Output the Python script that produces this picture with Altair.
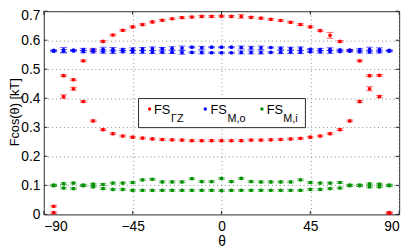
import altair as alt
import pandas as pd

angles = list(range(-85, 90, 5))

red_hi = [0.028, 0.478, 0.464, 0.529, 0.565, 0.596, 0.618, 0.634, 0.646, 0.654,
          0.663, 0.669, 0.674, 0.678, 0.680, 0.682, 0.682, 0.683, 0.682, 0.682,
          0.679, 0.676, 0.672, 0.668, 0.662, 0.654, 0.646, 0.633, 0.617, 0.596,
          0.565, 0.529, 0.478, 0.479, 0.006]
red_hi_err = [0.003] * 19 + [0.006] + [0.003] * 8 + [0.010] + [0.003] * 6
red_lo = [0.006, 0.406, 0.433, 0.389, 0.322, 0.292, 0.278, 0.270, 0.266, 0.263,
          0.260, 0.258, 0.257, 0.256, 0.254, 0.254, 0.254, 0.254, 0.254, 0.254,
          0.256, 0.256, 0.257, 0.258, 0.260, 0.262, 0.266, 0.270, 0.278, 0.292,
          0.322, 0.389, 0.433, 0.406, 0.004]
red_lo_err = [0.003, 0.006, 0.005] + [0.003] * 28 + [0.004, 0.007, 0.004, 0.003]

blue_hi = [0.565, 0.567, 0.566, 0.568, 0.567, 0.569, 0.569, 0.568, 0.569, 0.570,
           0.571, 0.571, 0.572, 0.573, 0.576, 0.574, 0.576, 0.576, 0.576, 0.575,
           0.574, 0.574, 0.575, 0.572, 0.571, 0.571, 0.569, 0.568, 0.569, 0.567,
           0.566, 0.567, 0.569, 0.568, 0.565]
blue_hi_err = [0.002, 0.008, 0.002, 0.004, 0.005, 0.007, 0.006, 0.004, 0.005, 0.005,
               0.006, 0.004, 0.006, 0.007, 0.002, 0.005, 0.002, 0.002, 0.002, 0.005,
               0.005, 0.006, 0.002, 0.005, 0.005, 0.006, 0.002, 0.004, 0.005, 0.002,
               0.002, 0.005, 0.007, 0.006, 0.002]
blue_lo = [0.562, 0.562, 0.563, 0.561, 0.561, 0.561, 0.560, 0.561, 0.560, 0.560,
           0.559, 0.559, 0.559, 0.558, 0.558, 0.558, 0.557, 0.557, 0.557, 0.558,
           0.558, 0.558, 0.558, 0.559, 0.559, 0.559, 0.560, 0.560, 0.560, 0.561,
           0.562, 0.561, 0.560, 0.561, 0.562]
blue_lo_err = [0.002, 0.006, 0.002, 0.004, 0.005, 0.006, 0.006, 0.004, 0.005, 0.005,
               0.005, 0.004, 0.005, 0.006, 0.002, 0.005, 0.002, 0.002, 0.002, 0.005,
               0.005, 0.005, 0.002, 0.005, 0.005, 0.005, 0.002, 0.004, 0.005, 0.002,
               0.002, 0.005, 0.005, 0.005, 0.002]

green_hi = [0.101, 0.106, 0.108, 0.101, 0.104, 0.103, 0.108, 0.108, 0.110, 0.119,
            0.121, 0.112, 0.112, 0.112, 0.123, 0.113, 0.113, 0.124, 0.113, 0.124,
            0.113, 0.112, 0.112, 0.112, 0.112, 0.119, 0.110, 0.108, 0.108, 0.110,
            0.101, 0.101, 0.105, 0.104, 0.101]
green_hi_err = [0.003] * 35
green_lo = [0.099, 0.091, 0.089, 0.099, 0.095, 0.089, 0.086, 0.086, 0.083, 0.083,
            0.083, 0.083, 0.083, 0.083, 0.083, 0.083, 0.083, 0.082, 0.083, 0.083,
            0.083, 0.083, 0.083, 0.083, 0.083, 0.083, 0.086, 0.086, 0.089, 0.091,
            0.099, 0.099, 0.095, 0.095, 0.099]
green_lo_err = [0.003] * 35

x_ticks = [-90, -45, 0, 45, 90]
y_ticks = [0, 0.1, 0.2, 0.3, 0.4, 0.5, 0.6, 0.7]

RED, BLUE, GREEN = "#ff0000", "#0000ff", "#009000"
FONT = "Liberation Sans"
W, H = 362, 207
TL = 3.6


def frame(vals, errs):
    return pd.DataFrame({
        "angle": angles,
        "value": vals,
        "lo": [v - e for v, e in zip(vals, errs)],
        "hi": [v + e for v, e in zip(vals, errs)],
    })


xs = alt.Scale(domain=[-90, 90], nice=False, zero=False)
ys = alt.Scale(domain=[0, 0.7], nice=False, zero=False)

XAX = alt.Axis(values=x_ticks, title="θ", titleY=32, titleBaseline="alphabetic",
               titleFontSize=14, labelPadding=5)
YAX = alt.Axis(values=y_ticks, title="Fcos(θ) [kT]", titleX=-26, titleY=H / 2 - 1,
               titleAngle=-90, titleAlign="center", titleBaseline="alphabetic",
               titleFontSize=13, labelPadding=4,
               labelOffset={"condition": {"test": "datum.value > 0.65", "value": 4}, "value": 0},
               labelExpr="datum.value == 0 ? '0' : format(datum.value, '.1f')")


def xenc(field):
    return alt.X(field, scale=xs, axis=XAX)


def yenc(field):
    return alt.Y(field, scale=ys, axis=YAX)


def series(df, color):
    base = alt.Chart(df)
    rule = base.mark_rule(color=color, strokeWidth=1, opacity=0.55).encode(
        x=xenc("angle:Q"), y=yenc("lo:Q"), y2="hi:Q")
    cap_lo = base.mark_tick(color=color, orient="horizontal", size=7, thickness=1,
                            opacity=0.6).encode(x=xenc("angle:Q"), y=yenc("lo:Q"))
    cap_hi = base.mark_tick(color=color, orient="horizontal", size=7, thickness=1,
                            opacity=0.6).encode(x=xenc("angle:Q"), y=yenc("hi:Q"))
    dot = base.mark_circle(color=color, size=14, opacity=1).encode(
        x=xenc("angle:Q"), y=yenc("value:Q"))
    return [rule, cap_lo, cap_hi, dot]


layers = []
for vals, errs, col in [
    (red_hi, red_hi_err, RED), (red_lo, red_lo_err, RED),
    (blue_hi, blue_hi_err, BLUE), (blue_lo, blue_lo_err, BLUE),
    (green_hi, green_hi_err, GREEN), (green_lo, green_lo_err, GREEN),
]:
    layers += series(frame(vals, errs), col)

# inward ticks
xt = alt.Chart(pd.DataFrame({"t": x_ticks}))
yt = alt.Chart(pd.DataFrame({"t": y_ticks}))
tick_col = "#262626"
layers.append(xt.mark_rule(color=tick_col).encode(
    x=xenc("t:Q"), y=alt.value(H), y2=alt.value(H - TL)))
layers.append(xt.mark_rule(color=tick_col).encode(
    x=xenc("t:Q"), y=alt.value(0), y2=alt.value(TL)))
layers.append(yt.mark_rule(color=tick_col).encode(
    y=yenc("t:Q"), x=alt.value(0), x2=alt.value(TL)))
layers.append(yt.mark_rule(color=tick_col).encode(
    y=yenc("t:Q"), x=alt.value(W), x2=alt.value(W - TL)))

# legend
one = alt.Chart(pd.DataFrame({"a": [0]}))
layers.append(one.mark_rect(fill="white", stroke="#262626", strokeWidth=1).encode(
    x=alt.value(96.5), x2=alt.value(266.5), y=alt.value(89), y2=alt.value(118.6)))
leg_items = [
    (RED, 107.8, 112.2, 129.6, "ΓZ"),
    (BLUE, 164.5, 169.8, 187.2, "M,o"),
    (GREEN, 222.2, 227.2, 244.0, "M,i"),
]
for col, dx, tx, sx, sub in leg_items:
    layers.append(one.mark_circle(color=col, size=12, opacity=1).encode(
        x=alt.value(dx), y=alt.value(99.6)))
    layers.append(one.mark_text(font=FONT, fontSize=13, align="left", baseline="alphabetic",
                                color="black").encode(
        x=alt.value(tx), y=alt.value(104.5), text=alt.value("FS")))
    layers.append(one.mark_text(font=FONT, fontSize=11, align="left", baseline="alphabetic",
                                color="black").encode(
        x=alt.value(sx), y=alt.value(112.7), text=alt.value(sub)))

chart = alt.layer(*layers).properties(
    width=W, height=H,
    autosize=alt.AutoSizeParams(type="none"),
    padding={"left": 36.5, "top": 1, "right": 8, "bottom": 34},
).configure_view(
    stroke="#262626", strokeWidth=1
).configure_axis(
    labelFont=FONT, titleFont=FONT, labelFontSize=14, labelColor="black",
    titleColor="black", titleFontWeight="normal",
    grid=True, gridDash=[1, 3], gridColor="#8a8a8a", gridWidth=1,
    domain=False, ticks=False,
)

chart.save("out.html", embed_options={"renderer": "svg", "actions": False})
